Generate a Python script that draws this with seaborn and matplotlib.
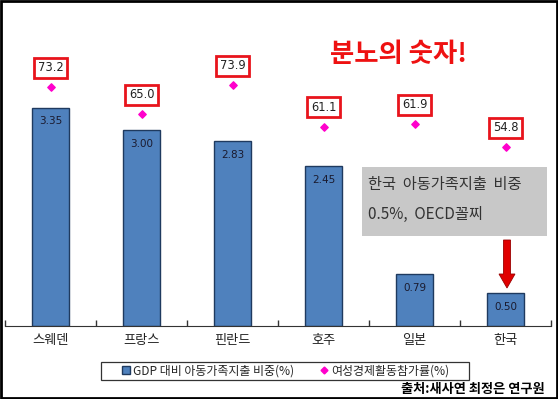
import matplotlib
matplotlib.use('Agg')
import matplotlib.pyplot as plt
import seaborn as sns
import numpy as np
from matplotlib.lines import Line2D
from matplotlib.patches import Patch, Rectangle, FancyArrow

countries = ['스웨덴', '프랑스', '핀란드', '호주', '일본', '한국']
gdp_share = [3.35, 3.00, 2.83, 2.45, 0.79, 0.50]
women_rate = [73.2, 65.0, 73.9, 61.1, 61.9, 54.8]

sns.set_style('white')
plt.rcParams['font.family'] = ['Noto Sans CJK KR', 'DejaVu Sans']

fig = plt.figure(figsize=(5.58, 3.99), dpi=100)
ax = fig.add_axes([5 / 558, 73 / 399, 546 / 558, 326 / 399])

bar_color = '#4F81BD'
sns.barplot(x=countries, y=gdp_share, color=bar_color, width=0.4,
            edgecolor='#1F3A5F', linewidth=1, saturation=1, ax=ax)
ax.set_ylim(0, 5)
ax.set_xlim(-0.5, len(countries) - 0.5)

for i, v in enumerate(gdp_share):
    ax.annotate(f'{v:.2f}', (i, v), xytext=(0, -10), textcoords='offset points',
                ha='center', va='center', fontsize=7.5, color='#1a1a2e',
                family=['DejaVu Sans'])

ax2 = ax.twinx()
ax2.set_ylim(0, 100)
ax2.scatter(range(len(countries)), women_rate, marker='D', s=14,
            color='#FF00CC', zorder=5)
for i, v in enumerate(women_rate):
    ax2.annotate(f'{v:.1f}', (i, v), xytext=(0, 14), textcoords='offset points',
                 ha='center', va='center', fontsize=8.3, color='#222222',
                 family=['DejaVu Sans'],
                 bbox=dict(boxstyle='square,pad=0.3', fc='white', ec='#E8141C', lw=2))

for a in (ax, ax2):
    for s in ['top', 'right', 'left']:
        a.spines[s].set_visible(False)
    a.set_yticks([])
    a.set_ylabel('')
ax2.spines['bottom'].set_visible(False)
ax.spines['bottom'].set_color('#333333')
ax.set_xticks(range(len(countries)))
ax.set_xticklabels(countries, fontsize=9.5, color='#222222')
ax.tick_params(axis='x', which='major', length=0, pad=6)
ax.set_xticks(np.arange(-0.5, len(countries), 1), minor=True)
ax.tick_params(axis='x', which='minor', bottom=True, direction='in', length=4,
               width=1, color='#333333')

# title
fig.text(398 / 558, 1 - 55 / 399, '분노의 숫자!', color='#EE1111', fontsize=19,
         fontweight='bold', ha='center', va='center')

# gray note box
fig.patches.append(Rectangle((362 / 558, 1 - 236 / 399), 185 / 558, 69 / 399,
                             transform=fig.transFigure, fc='#C8C8C8', ec='none', zorder=3))
fig.text(368 / 558, 1 - 184 / 399, '한국  아동가족지출  비중', fontsize=11,
         color='#333333', va='center', ha='left', zorder=4)
fig.text(368 / 558, 1 - 214 / 399, '0.5%,  OECD꼴찌', fontsize=11,
         color='#333333', va='center', ha='left', zorder=4)

# red arrow
fig.patches.append(FancyArrow(507 / 558, 1 - 240 / 399, 0, -48 / 399,
                              width=7 / 558, head_width=16 / 558, head_length=14 / 399,
                              length_includes_head=True, transform=fig.transFigure,
                              fc='#E00000', ec='#990000', lw=0.6, zorder=4))

# legend (frame drawn separately to get the wide padding)
handles = [Patch(facecolor=bar_color, edgecolor='#1F3A5F', label='GDP 대비 아동가족지출 비중(%)'),
           Line2D([0], [0], marker='D', color='none', markerfacecolor='#FF00CC',
                  markeredgecolor='#FF00CC', markersize=3.5, label='여성경제활동참가률(%)')]
fig.legend(handles=handles, loc='center', bbox_to_anchor=(286 / 558, 1 - 371 / 399),
           ncol=2, fontsize=8.6, frameon=False, borderpad=0.2,
           handlelength=0.6, handleheight=0.6, handletextpad=0.3, columnspacing=2.2)
fig.patches.append(Rectangle((101 / 558, 1 - 380 / 399), 368 / 558, 18 / 399,
                             transform=fig.transFigure, fill=False, ec='#333333', lw=0.9))

fig.text(545 / 558, 1 - 389 / 399, '출처:새사연 최정은 연구원', fontsize=9.5,
         fontweight='bold', ha='right', va='center', color='black')

# outer frame
fig.patches.append(Rectangle((0.002, 0.003), 0.996, 0.994, transform=fig.transFigure,
                             fill=False, ec='black', lw=2, zorder=10))

fig.savefig('out.png', dpi=100)
